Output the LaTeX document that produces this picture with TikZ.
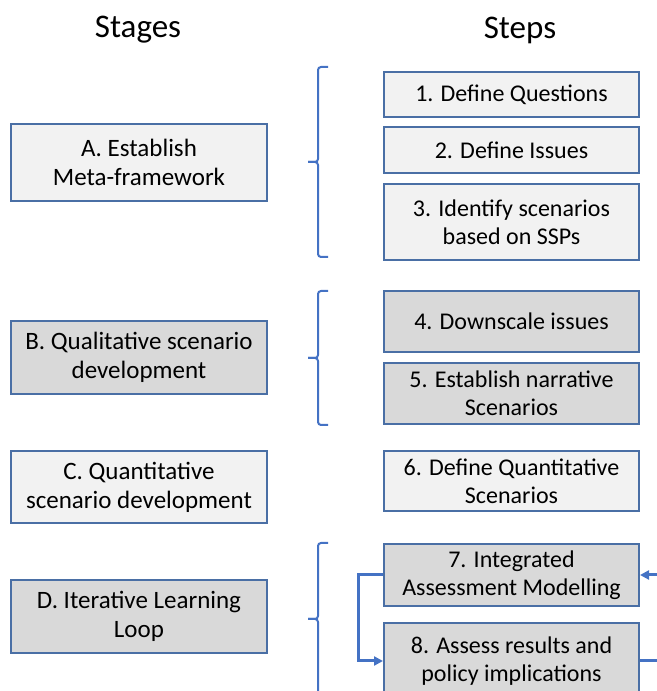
\documentclass[tikz,border=0pt]{standalone}
\usepackage{fontspec}
\setmainfont{Carlito}
\usetikzlibrary{arrows.meta}
\definecolor{boxline}{HTML}{4A6FA5}
\definecolor{bracecol}{HTML}{4472C4}
\definecolor{lightfill}{HTML}{F2F2F2}
\definecolor{darkfill}{HTML}{D9D9D9}
\begin{document}
\begin{tikzpicture}[x=0.5pt,y=0.5pt,
    stagebox/.style={draw=boxline, line width=1pt, minimum width=128pt, inner sep=0pt, align=center, font=\fontsize{12.5}{14.5}\selectfont},
    stepbox/.style={draw=boxline, line width=1pt, minimum width=127.5pt, inner sep=0pt, align=center, font=\fontsize{12}{14}\selectfont},
    header/.style={font=\fontsize{16.5}{20}\selectfont},
    bracket/.style={draw=bracecol, line width=1pt, rounded corners=1.5pt},
    feedback/.style={draw=bracecol, line width=1.5pt, -{Triangle[length=4.5pt,width=4.5pt]}}]
        \useasboundingbox (0,0) rectangle (657,691);
        \clip (0,0) rectangle (657,691);

        % Headers
        \node[header] (stages) at (138,661) {Stages};
        \node[header] (steps) at (520,661) {Steps};

        % Stages
        \node[stagebox, fill=lightfill, minimum height=38.5pt] (stA) at (139,528.5) {A. Establish\\Meta-framework};
        \node[stagebox, fill=darkfill, minimum height=36.5pt] (stB) at (139,333.5) {B. Qualitative scenario\\development};
        \node[stagebox, fill=lightfill, minimum height=36pt] (stC) at (139,204) {C. Quantitative\\scenario development};
        \node[stagebox, fill=darkfill, minimum height=36.5pt] (stD) at (139,74.5) {D. Iterative Learning\\Loop};

        % Steps
        \node[stepbox, fill=lightfill, minimum height=22.5pt] (s1) at (511.5,596.5) {1. Define Questions};
        \node[stepbox, fill=lightfill, minimum height=23pt] (s2) at (511.5,541) {2. Define Issues};
        \node[stepbox, fill=lightfill, minimum height=38pt] (s3) at (511.5,469) {3. Identify scenarios\\based on SSPs};
        \node[stepbox, fill=darkfill, minimum height=30.5pt] (s4) at (511.5,369.5) {4. Downscale issues};
        \node[stepbox, fill=darkfill, minimum height=30.5pt] (s5) at (511.5,297.5) {5. Establish narrative\\Scenarios};
        \node[stepbox, fill=lightfill, minimum height=30pt] (s6) at (511.5,210) {6. Define Quantitative\\Scenarios};
        \node[stepbox, fill=darkfill, minimum height=31pt] (s7) at (511.5,116) {7. Integrated\\Assessment Modelling};
        \node[stepbox, fill=darkfill, minimum height=38pt] (s8) at (511.5,30) {8. Assess results and\\policy implications};

        % Brackets
        \draw[bracket] (328,624) -- (318,624) -- (318,529) -- (308,529);
        \draw[bracket] (308,529) -- (318,529) -- (318,434) -- (328,434);
        \draw[bracket] (328,400) -- (318,400) -- (318,333) -- (308,333);
        \draw[bracket] (308,333) -- (318,333) -- (318,266) -- (328,266);
        \draw[bracket] (328,148) -- (318,148) -- (318,72) -- (308,72);
        \draw[bracket] (308,72) -- (318,72) -- (318,-4) -- (328,-4);

        % Learning loop
        \draw[feedback] (s7.west) -- ++(-25,0) |- (s8.west);
        \draw[feedback] (s8.east) -- ++(30,0) |- (s7.east);
\end{tikzpicture}
\end{document}
